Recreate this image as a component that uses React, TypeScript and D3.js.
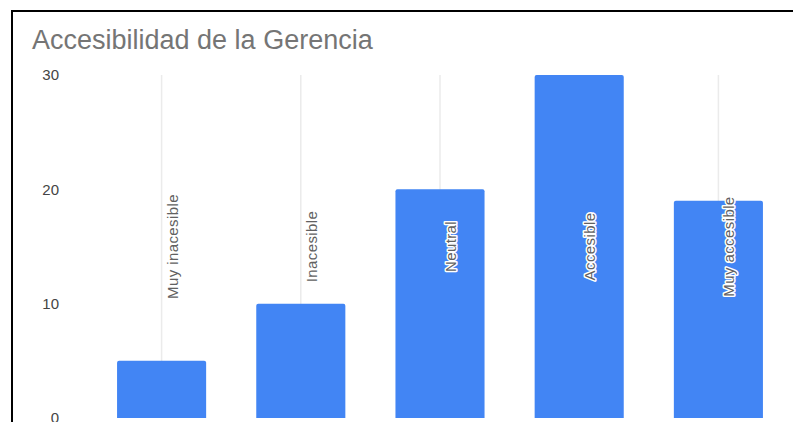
import React from "react";
import * as d3 from "d3";

const categories = ["Muy inacesible", "Inacesible", "Neutral", "Accesible", "Muy accesible"];
const values = [5, 10, 20, 30, 19];
const yTicks = [0, 10, 20, 30];
const title = "Accesibilidad de la Gerencia";

const W = 793;
const H = 422;

export default function App() {
  const x = d3
    .scaleBand<string>()
    .domain(categories)
    .range([92, 788])
    .paddingInner(0.36)
    .paddingOuter(0.18);
  const y = d3.scaleLinear().domain([0, 30]).range([418, 75]);
  const bw = x.bandwidth();
  const r = 2;
  const font = "'Liberation Sans', Arial, sans-serif";
  const midY = (y(0) + y(30)) / 2;

  return (
    <svg
      width={W}
      height={H}
      style={{ position: "absolute", left: 0, top: 0, background: "#fff" }}
      fontFamily={font}
    >
      <rect x={0} y={0} width={W} height={H} fill="#fff" />
      {/* title */}
      <text x={32} y={49} fontSize={27} fill="#757575">
        {title}
      </text>
      {/* vertical gridlines */}
      {categories.map((c) => {
        const cx = (x(c) as number) + bw / 2;
        return (
          <line key={"g" + c} x1={cx} x2={cx} y1={y(30)} y2={y(0)} stroke="#ebebeb" strokeWidth={1.5} />
        );
      })}
      {/* y tick labels */}
      {yTicks.map((t) => (
        <text key={"t" + t} x={59} y={y(t)} dy="0.35em" textAnchor="end" fontSize={15} fill="#444">
          {t}
        </text>
      ))}
      {/* bars */}
      {categories.map((c, i) => {
        const x0 = x(c) as number;
        const x1 = x0 + bw;
        const yt = y(values[i]);
        const yb = y(0);
        const d = `M${x0},${yb} V${yt + r} Q${x0},${yt} ${x0 + r},${yt} H${x1 - r} Q${x1},${yt} ${x1},${yt + r} V${yb} Z`;
        return <path key={"b" + c} d={d} fill="#4285f4" />;
      })}
      {/* rotated labels */}
      {categories.map((c) => {
        const cx = (x(c) as number) + bw / 2 + 16;
        return (
          <text
            key={"l" + c}
            transform={`translate(${cx},${midY}) rotate(-90)`}
            textAnchor="middle"
            fontSize={15}
            letterSpacing={0.4}
            fill="#616161"
            stroke="#fff"
            strokeWidth={3}
            strokeLinejoin="round"
            paintOrder="stroke"
          >
            {c}
          </text>
        );
      })}
      {/* border */}
      <path d={`M12,${H} V11 H${W}`} fill="none" stroke="#000" strokeWidth={2} />
    </svg>
  );
}
